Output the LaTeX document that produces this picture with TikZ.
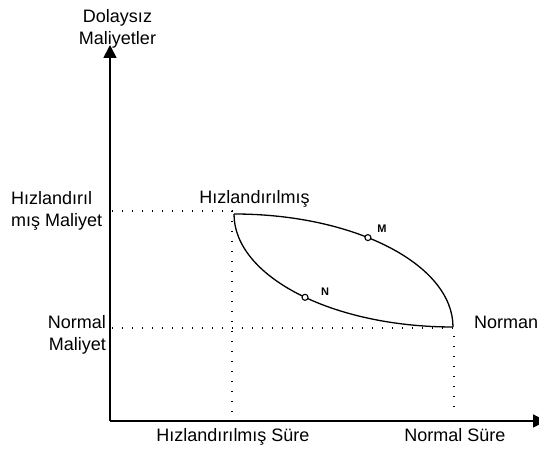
\documentclass[tikz,border=0pt]{standalone}
\usepackage{fontspec}
\setmainfont{Liberation Sans}
\usetikzlibrary{arrows.meta}
\begin{document}
\begin{tikzpicture}[x=1pt,y=1pt,
  axis/.style={line width=1.8pt,-{Triangle[length=13pt,width=13pt]}},
  curve/.style={line width=1.3pt},
  guide/.style={line width=1.3pt,dash pattern=on 1.3pt off 8.7pt},
  lbl/.style={font=\fontsize{18}{22}\selectfont,inner sep=0pt},
  ptlbl/.style={font=\fontsize{11}{13}\selectfont\bfseries,inner sep=0pt},
  mark point/.style={circle,draw,fill=white,line width=1.1pt,minimum size=6pt,inner sep=0pt}]
\useasboundingbox (0,0) rectangle (539,452);

% axes
\coordinate (O) at (110,31);
\coordinate (Ytip) at (110,407);
\coordinate (Xtip) at (546,31);
\draw[axis] (O) -- (Ytip);
\draw[axis] (O) -- (Xtip);

% crash point and normal point
\coordinate (A) at (234,238);
\coordinate (B) at (453,125);

% guide lines to the axes
\coordinate (hy) at (112,241);
\coordinate (hc) at (232,241);
\coordinate (hb) at (232,37);
\coordinate (ny) at (112,124);
\coordinate (nc) at (454,124);
\coordinate (nb) at (454,37);
\draw[guide] (hy) -- (hc) -- (hb);
\draw[guide] (ny) -- (nc) -- (nb);

% cost curves
\draw[curve] (A) arc[start angle=90,end angle=0,x radius=219,y radius=113];
\draw[curve] (A) arc[start angle=180,end angle=270,x radius=219,y radius=113];

% points on the curves
\path (234,125) ++(52.3:219 and 113) node[mark point] (M) {};
\path (453,238) ++(227.5:219 and 113) node[mark point] (N) {};
\node[ptlbl] (Mlbl) at (382,223) {M};
\node[ptlbl] (Nlbl) at (325,160) {N};

% labels (base anchor of a multi-line node sits on its last line)
\node[lbl,align=center,anchor=base] (ylab) at (117.5,407) {Dolaysız\\Maliyetler};
\node[lbl,align=left,anchor=base west] (hmal) at (11,225) {Hızlandırıl\\mış Maliyet};
\node[lbl,align=right,anchor=base east] (nmal) at (106,101) {Normal\\Maliyet};
\node[lbl,anchor=base] (hlab) at (254.5,248) {Hızlandırılmış};
\node[lbl,anchor=base west] (nlab) at (474,123) {Norman};
\node[lbl,anchor=base] (hsure) at (233,10) {Hızlandırılmış Süre};
\node[lbl,anchor=base] (nsure) at (455,10) {Normal Süre};
\end{tikzpicture}
\end{document}
